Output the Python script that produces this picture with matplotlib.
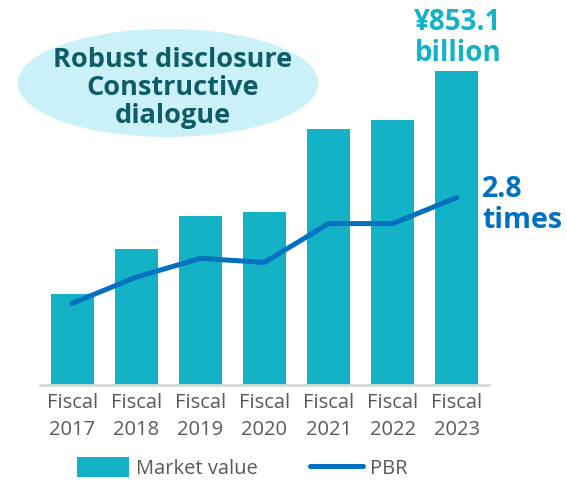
import matplotlib
matplotlib.use('Agg')
import matplotlib.pyplot as plt
from matplotlib.patches import Ellipse, Patch
from matplotlib.lines import Line2D

years = ['Fiscal\n2017', 'Fiscal\n2018', 'Fiscal\n2019', 'Fiscal\n2020',
         'Fiscal\n2021', 'Fiscal\n2022', 'Fiscal\n2023']
market_value = [246, 369, 459, 469, 695, 720, 853.1]   # ¥ billion
pbr = [1.22, 1.61, 1.89, 1.83, 2.41, 2.41, 2.8]         # times

bar_color = '#13b2c6'
line_color = '#0070c0'
label_color = '#595959'

plt.rcParams['font.family'] = ['Open Sans', 'DejaVu Sans']

fig = plt.figure(figsize=(5.67, 4.82), dpi=100)
ax = fig.add_axes([40 / 567, 1 - 385 / 482, 449 / 567, 345 / 482])

x = list(range(len(years)))
ax.bar(x, market_value, width=0.67, color=bar_color, zorder=2)
ax.set_xlim(-0.5, 6.5)
ax.set_ylim(0, 937)

ax2 = ax.twinx()
ax2.plot(x, pbr, color=line_color, lw=3.6, solid_capstyle='round', zorder=3)
ax2.set_ylim(0, 5.15)

for a in (ax, ax2):
    for side in ('top', 'right', 'left'):
        a.spines[side].set_visible(False)
    a.set_yticks([])
ax2.spines['bottom'].set_visible(False)
ax.spines['bottom'].set_color('#d9d9d9')
ax.spines['bottom'].set_linewidth(2)

ax.set_xticks(x)
ax.set_xticklabels(years, fontsize=14.5, color=label_color, linespacing=1.45)
ax.tick_params(axis='x', length=0, pad=6)

# callout bubble
fig.patches.append(Ellipse((168 / 567, 1 - 83 / 482), 301 / 567, 108 / 482,
                           transform=fig.transFigure, facecolor='#c9f1f7',
                           edgecolor='none', zorder=0))
fig.text(173 / 567, 1 - 88 / 482, 'Robust disclosure\nConstructive\ndialogue',
         ha='center', va='center', fontsize=19.5, fontweight='bold',
         color='#0e5c68', linespacing=1.08)

fig.text(458 / 567, 1 - 38 / 482, '¥853.1\nbillion', ha='center', va='center',
         fontsize=20, fontweight='bold', color=bar_color, linespacing=1.08)
fig.text(482 / 567, 1 - 205 / 482, '2.8\ntimes', ha='left', va='center',
         fontsize=20.5, fontweight='bold', color=line_color, linespacing=1.12)

handles = [Patch(facecolor=bar_color, edgecolor='none'),
           Line2D([], [], color=line_color, lw=3.6, solid_capstyle='round')]
fig.legend(handles, ['Market value', 'PBR'], loc='center', ncol=2,
           bbox_to_anchor=(242 / 567, 1 - 468 / 482), frameon=False,
           fontsize=14.5, labelcolor=label_color, handlelength=2.6,
           handleheight=1.1, handletextpad=0.35, columnspacing=2.6)

fig.savefig('out.png', dpi=100)
